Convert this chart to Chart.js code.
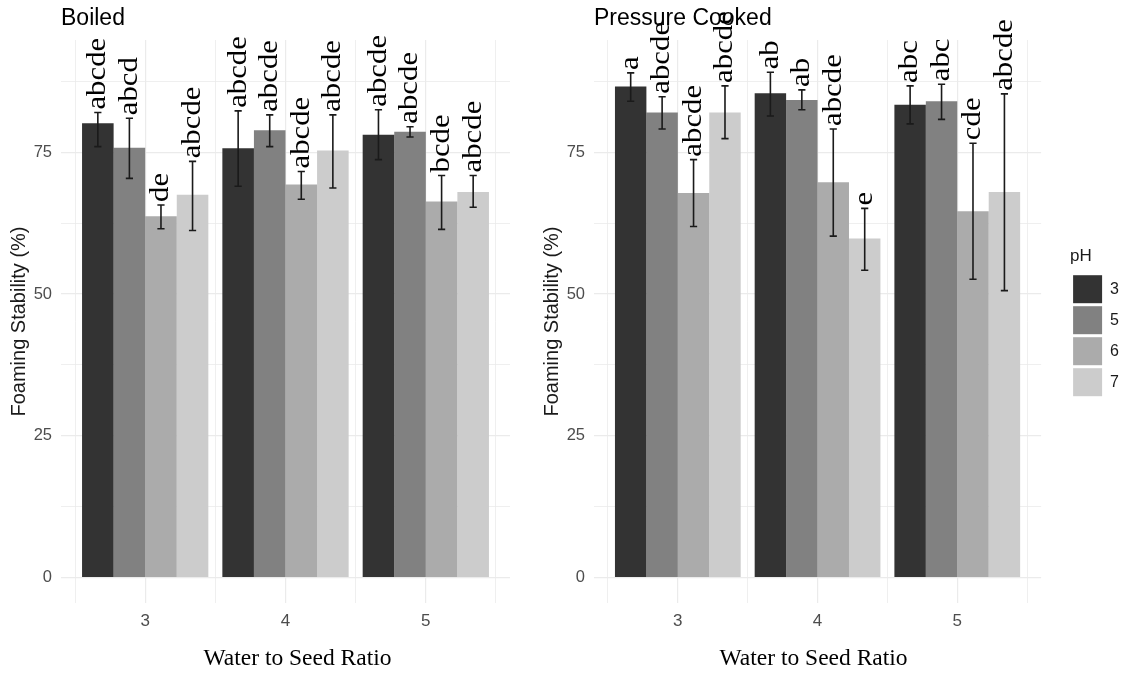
<!DOCTYPE html>
<html>
<head>
<meta charset="utf-8">
<script src="https://cdn.jsdelivr.net/npm/chart.js@4/dist/chart.umd.min.js"></script>
<style>
  html, body { margin: 0; padding: 0; background: #ffffff; }
  #wrap { position: relative; width: 1129px; height: 673px; overflow: hidden; }
  canvas { position: absolute; top: 0; }
  #boiled { left: 0; }
  #pressure { left: 533px; }
</style>
</head>
<body>
<div id="wrap">
  <canvas id="boiled" width="520" height="673"></canvas>
  <canvas id="pressure" width="596" height="673"></canvas>
</div>
<script>
// Water to seed ratio groups and pH levels
const ratios = [3, 4, 5];
const phLevels = ['3', '5', '6', '7'];
const phColors = ['#333333', '#818181', '#ababab', '#cccccc'];
const yTickValues = [0, 12.5, 25, 37.5, 50, 62.5, 75, 87.5];
const xMinorValues = [2.5, 3.5, 4.5, 5.5];

// Rows: pH 3, 5, 6, 7 — columns: ratio 3, 4, 5
const boiledMean = [
  [80.1, 75.7, 78.1],
  [75.8, 78.9, 78.6],
  [63.7, 69.3, 66.3],
  [67.5, 75.3, 68.0]
];
const boiledLow = [
  [76.0, 69.0, 73.7],
  [70.4, 76.0, 77.7],
  [61.5, 66.7, 61.4],
  [61.2, 68.7, 65.3]
];
const boiledHigh = [
  [82.0, 82.3, 82.5],
  [81.0, 81.6, 79.5],
  [65.7, 71.6, 70.9],
  [73.4, 81.6, 70.9]
];
const boiledLetters = [
  ['abcde', 'abcde', 'abcde'],
  ['abcd', 'abcde', 'abcde'],
  ['de', 'abcde', 'bcde'],
  ['abcde', 'abcde', 'abcde']
];

const pressureMean = [
  [86.6, 85.4, 83.4],
  [82.0, 84.2, 84.0],
  [67.8, 69.7, 64.6],
  [82.0, 59.8, 68.0]
];
const pressureLow = [
  [84.0, 81.4, 80.0],
  [79.1, 82.5, 80.8],
  [61.9, 60.2, 52.6],
  [77.4, 54.2, 50.6]
];
const pressureHigh = [
  [89.0, 89.1, 86.7],
  [84.8, 86.0, 87.0],
  [73.7, 79.1, 76.6],
  [86.7, 65.1, 85.3]
];
const pressureLetters = [
  ['a', 'ab', 'abc'],
  ['abcde', 'ab', 'abc'],
  ['abcde', 'abcde', 'cde'],
  ['abcde', 'e', 'abcde']
];

const SANS = '"Liberation Sans", Arial, sans-serif';
const SERIF = '"Liberation Serif", "Times New Roman", serif';
const GRID = '#ebebeb';
const TICK = '#4d4d4d';

Chart.defaults.font.family = SANS;

// Error bars (low/high) and significance letters above each bar
const errorBarsAndLetters = {
  id: 'errorBarsAndLetters',
  afterDatasetsDraw(chart) {
    const { ctx } = chart;
    const y = chart.scales.y;
    ctx.save();
    chart.data.datasets.forEach((ds, i) => {
      const meta = chart.getDatasetMeta(i);
      meta.data.forEach((bar, j) => {
        const x = bar.x;
        const yLo = y.getPixelForValue(ds.errLow[j]);
        const yHi = y.getPixelForValue(ds.errHigh[j]);
        ctx.strokeStyle = '#1a1a1a';
        ctx.lineWidth = 1.6;
        ctx.beginPath();
        ctx.moveTo(x, yLo); ctx.lineTo(x, yHi);
        ctx.moveTo(x - 3.6, yLo); ctx.lineTo(x + 3.6, yLo);
        ctx.moveTo(x - 3.6, yHi); ctx.lineTo(x + 3.6, yHi);
        ctx.stroke();

        ctx.save();
        ctx.translate(x, yHi - 3);
        ctx.rotate(-Math.PI / 2);
        ctx.scale(1.1, 1);
        ctx.font = '28px ' + SERIF;
        ctx.fillStyle = '#000000';
        ctx.textAlign = 'left';
        ctx.textBaseline = 'middle';
        ctx.fillText(ds.letters[j], 0, 0);
        ctx.restore();
      });
    });
    ctx.restore();
  }
};

// Serif x-axis title under each panel
const xAxisTitle = {
  id: 'xAxisTitle',
  afterDraw(chart, args, opts) {
    const { ctx, chartArea } = chart;
    ctx.save();
    ctx.font = '23.5px ' + SERIF;
    ctx.fillStyle = '#000000';
    ctx.textAlign = 'center';
    ctx.textBaseline = 'alphabetic';
    ctx.fillText(opts.text, (chartArea.left + chartArea.right) / 2 + opts.shift, chartArea.bottom + 62);
    ctx.restore();
  }
};

function makePanel(canvasId, panelTitle, mean, low, high, letters, showLegend, titleShift) {
  const datasets = phLevels.map((ph, i) => ({
    label: ph,
    data: ratios.map((r, j) => ({ x: r, y: mean[i][j] })),
    backgroundColor: phColors[i],
    borderColor: phColors[i],
    borderWidth: 0,
    categoryPercentage: 0.9,
    barPercentage: 1.0,
    errLow: low[i],
    errHigh: high[i],
    letters: letters[i]
  }));

  const scales = {
    x: {
      type: 'linear',
      min: 2.4,
      max: 5.6,
      offset: false,
      afterBuildTicks: s => { s.ticks = ratios.map(v => ({ value: v })); },
      afterFit: s => { s.height = 44; },
      ticks: {
        autoSkip: false,
        maxRotation: 0,
        padding: 8,
        color: TICK,
        font: { size: 17, family: SANS },
        callback: v => String(v)
      },
      grid: { offset: false, drawTicks: false, color: GRID, lineWidth: 1.2 },
      border: { display: false }
    },
    // minor vertical grid lines between the ratio groups
    xMinor: {
      type: 'linear',
      position: 'bottom',
      min: 2.4,
      max: 5.6,
      offset: false,
      afterBuildTicks: s => { s.ticks = xMinorValues.map(v => ({ value: v })); },
      afterFit: s => { s.height = 0; },
      ticks: { display: false },
      grid: { offset: false, drawTicks: false, color: GRID, lineWidth: 0.8 },
      border: { display: false }
    },
    y: {
      type: 'linear',
      min: -4.5,
      max: 94.8,
      afterBuildTicks: s => { s.ticks = yTickValues.map(v => ({ value: v })); },
      afterFit: s => { s.width = 61; },
      ticks: {
        autoSkip: false,
        padding: 9,
        color: TICK,
        font: { size: 16.5, family: SANS },
        callback: v => (v % 25 === 0 ? String(v) : '')
      },
      grid: {
        drawTicks: false,
        color: GRID,
        lineWidth: c => (c.tick && c.tick.value % 25 === 0 ? 1.2 : 0.8)
      },
      border: { display: false },
      title: {
        display: true,
        text: 'Foaming Stability (%)',
        color: '#1a1a1a',
        font: { size: 20, family: SANS },
        padding: { top: 7, bottom: 0 }
      }
    }
  };

  if (showLegend) {
    // spacer between the panel and the legend
    scales.gap = {
      type: 'linear',
      position: 'right',
      display: true,
      afterFit: s => { s.width = 29; },
      ticks: { display: false },
      grid: { display: false, drawTicks: false },
      border: { display: false }
    };
  }

  return new Chart(document.getElementById(canvasId), {
    type: 'bar',
    data: { datasets },
    options: {
      responsive: false,
      animation: false,
      events: [],
      layout: { padding: { top: 0, left: 0, right: showLegend ? 0 : 10, bottom: 26 } },
      scales,
      plugins: {
        tooltip: { enabled: false },
        title: {
          display: true,
          text: panelTitle,
          align: 'start',
          fullSize: false,
          color: '#000000',
          font: { size: 23, weight: 'normal', family: SANS },
          padding: { top: 4.6, bottom: 7.8 }
        },
        legend: {
          display: showLegend,
          position: 'right',
          align: 'center',
          labels: {
            boxWidth: 29,
            boxHeight: 28,
            padding: 3,
            color: '#1a1a1a',
            font: { size: 16, family: SANS }
          },
          title: {
            display: true,
            text: 'pH',
            position: 'start',
            color: '#1a1a1a',
            font: { size: 17, family: SANS },
            padding: { top: 0, bottom: 4 }
          }
        },
        xAxisTitle: { text: 'Water to Seed Ratio', shift: titleShift }
      }
    },
    plugins: [errorBarsAndLetters, xAxisTitle]
  });
}

makePanel('boiled', 'Boiled', boiledMean, boiledLow, boiledHigh, boiledLetters, false, 12);
makePanel('pressure', 'Pressure Cooked', pressureMean, pressureLow, pressureHigh, pressureLetters, true, -4);
</script>
</body>
</html>
